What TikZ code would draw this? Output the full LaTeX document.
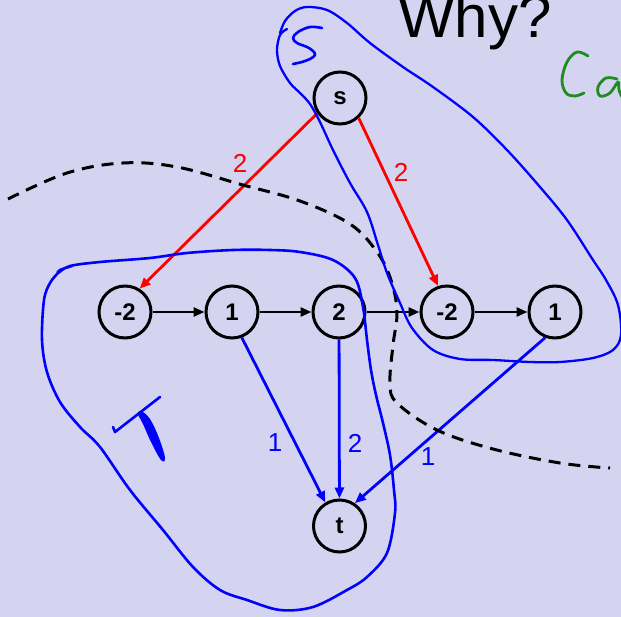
\documentclass[tikz,border=0pt]{standalone}
\usepackage{fontspec}
\setmainfont{Liberation Sans}
\usetikzlibrary{arrows.meta}
\definecolor{paper}{RGB}{212,212,240}
\definecolor{pen}{RGB}{0,0,255}
\definecolor{flowred}{RGB}{255,0,0}
\definecolor{chalkgreen}{RGB}{30,140,30}
\begin{document}
\begin{tikzpicture}[x=1pt,y=-1pt,
  vtx/.style={circle,draw=black,line width=3pt,minimum size=52pt,inner sep=0pt,
              font=\fontsize{24}{24}\selectfont\bfseries},
  tip/.style={-{Triangle[length=11pt,width=9pt]}},
  chain/.style={tip,line width=2.8pt,black},
  redflow/.style={tip,line width=2.8pt,flowred},
  blueflow/.style={tip,line width=2.8pt,pen},
  wt/.style={inner sep=0pt,font=\fontsize{26}{26}\selectfont},
  ink/.style={pen,line width=2.6pt,line cap=round,line join=round},
  cut/.style={black,line width=3pt,dash pattern=on 12pt off 8pt},
]
\useasboundingbox (0,0) rectangle (621,617);
\fill[paper] (0,0) rectangle (621,617);

% heading
\node[anchor=base west,inner sep=0pt,font=\fontsize{60}{60}\selectfont] (why) at (398,38) {Why?};

% vertices
\node[vtx] (s) at (340,98) {s};
\node[vtx] (a) at (125,312) {-2};
\node[vtx] (b) at (232,312) {1};
\node[vtx] (c) at (339,312) {2};
\node[vtx] (d) at (447,312) {-2};
\node[vtx] (e) at (555,312) {1};
\node[vtx] (t) at (339.5,526) {t};

% chain edges
\draw[chain] (a) -- (b);
\draw[chain] (b) -- (c);
\draw[chain] (c) -- (d);
\draw[chain] (d) -- (e);

% source edges
\draw[redflow] (s.214) -- (a.58);
\draw[redflow] (s.313) -- (d.109);
\node[wt,flowred] (ws1) at (240,163) {2};
\node[wt,flowred] (ws2) at (401,172) {2};

% sink edges
\draw[blueflow] (b.291) -- (t.121);
\draw[blueflow] (c) -- (t);
\draw[blueflow] (e.249) -- (t.56);
\node[wt,pen] (wt1) at (275,443) {1};
\node[wt,pen] (wt2) at (355,443) {2};
\node[wt,pen] (wt3) at (428,457) {1};

% the cut
\draw[cut] plot[smooth,tension=0.6] coordinates {
  (8,199) (67,173) (123,163) (177,167) (243,185) (300,201) (350,224)
  (377,252) (391,280) (397,312) (393,345) (390,383) (397,403)
  (437,430) (493,449) (560,463) (610,468)};

% hand-drawn set S
\draw[ink,line width=2.3pt] plot[smooth,tension=0.55] coordinates {
  (287,29) (280,35) (277,50) (280,66) (290,83) (300,93) (310,104)
  (320,122) (333,150) (350,183) (367,212) (378,245) (387,273) (400,303) (412,328)
  (433,350) (460,359) (493,360) (530,362) (560,362) (593,358) (613,350)
  (621,335) (618,305) (606,280) (593,260) (567,220) (540,187) (507,150)
  (473,117) (433,87) (403,67) (370,43) (347,23) (327,10) (307,7)
  (295,11) (285,21) (280,33)};
\draw[ink] plot[smooth,tension=0.6] coordinates {
  (322,28) (310,27) (298,32) (293,38) (297,43) (307,47) (313,51)
  (315,55) (310,59) (302,62) (293,64)};

% hand-drawn set T
\draw[ink] plot[smooth,tension=0.55] coordinates {
  (72,266) (60,270) (58,273) (70,266) (100,262) (150,258) (187,253)
  (233,250) (270,250) (300,252) (333,260) (355,278) (363,307) (367,340)
  (371,370) (376,395) (383,423) (390,455) (394,490) (395,513) (387,553)
  (367,577) (347,590) (313,607) (280,610) (247,600) (220,590) (193,567)
  (163,530) (130,490) (100,447) (80,427) (60,402) (47,372) (42,340)
  (44,300) (50,283) (58,273)};
\draw[ink] (113,427) -- (115,432) -- (160,397);
\fill[pen] plot[smooth cycle,tension=0.6] coordinates {
  (141,411) (150,419) (159,438) (165,458) (161,460) (151,442) (143,424) (138,414)};

% green note at the edge
\draw[chalkgreen,line width=2.8pt,line cap=round,line join=round]
  plot[smooth,tension=0.6] coordinates {(588,56) (577,52) (567,62) (562,80) (566,93) (575,96) (584,93)};
\draw[chalkgreen,line width=2.8pt,line cap=round,line join=round]
  plot[smooth,tension=0.6] coordinates {(617,79) (606,78) (598,87) (600,96) (610,93) (618,82) (619,90) (622,97)};
\end{tikzpicture}
\end{document}
